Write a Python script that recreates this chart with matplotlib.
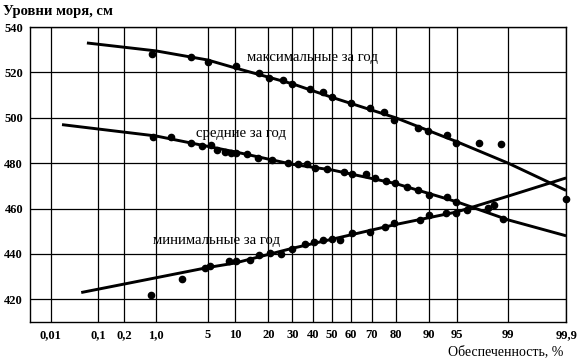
"""Sea level exceedance curves on normal probability paper."""
from statistics import NormalDist

import numpy as np
import matplotlib
matplotlib.use("Agg")
import matplotlib.pyplot as plt

# grid / tick positions (percent) and their labels as printed in the source
tick_pos = [0.01, 0.1, 0.3, 1.0, 5, 10, 20, 30, 40, 50, 60, 70, 80, 90, 95, 99, 99.9]
tick_labels = ["0,01", "0,1", "0,2", "1,0", "5", "10", "20", "30", "40", "50",
               "60", "70", "80", "90", "95", "99", "99,9"]

# annual maxima
max_p = [0.87, 3.1, 5.1, 10.2, 16.8, 20.3, 25.9, 29.9, 38.6, 45.3, 50, 59.9, 69.2,
         75.4, 79.4, 87.2, 89.8, 93.6, 94.9, 97.4, 98.7, 99.9]
max_v = [528.1, 526.8, 524.6, 522.8, 519.7, 517.5, 516.6, 514.9, 512.7, 511.3, 509.1,
         506.5, 504.3, 502.5, 499.0, 495.4, 494.1, 492.4, 488.8, 488.8, 488.4, 464.0]
max_fit_p = [0.06, 1, 5, 10, 30, 50, 80, 95, 99, 99.9]
max_fit_v = [533, 529.5, 525.5, 522, 515, 509, 500, 489.5, 480, 468]

# annual means
mean_p = [0.90, 1.67, 3.12, 4.30, 5.50, 6.44, 7.88, 9.11, 10.2, 13.1, 16.4, 21.4, 28.1,
          32.7, 37.1, 41.1, 47.4, 56.3, 60.4, 67.3, 71.5, 76.2, 79.7, 83.9, 87.2, 90.0,
          93.6, 94.9, 98.0, 98.8]
mean_v = [491.5, 491.5, 488.8, 487.5, 487.9, 485.7, 484.9, 484.4, 484.4, 484.0, 482.2,
          481.3, 480.0, 479.6, 479.6, 477.8, 477.4, 476.0, 475.2, 475.2, 473.4, 472.1,
          471.2, 469.4, 468.1, 465.9, 465.0, 462.8, 460.2, 455.3]
mean_fit_p = [0.018, 1, 10, 30, 50, 80, 95, 99, 99.9]
mean_fit_v = [497, 492, 485, 479.5, 477, 471, 463, 455, 448]

# annual minima
min_p = [0.84, 2.37, 4.67, 5.35, 8.68, 10.2, 13.9, 16.7, 20.6, 25.0, 29.9, 36.1, 40.6,
         45.3, 50, 54.2, 60.4, 69.2, 75.8, 79.4, 87.7, 90.0, 93.4, 94.9, 96.3, 98.4]
min_v = [421.8, 428.8, 433.7, 434.6, 436.8, 436.8, 437.2, 439.4, 440.3, 439.9, 442.1,
         444.3, 445.2, 446.0, 446.5, 446.0, 449.1, 449.6, 451.8, 453.5, 454.9, 457.1,
         458.0, 458.0, 459.3, 461.5]
min_fit_p = [0.046, 1, 5, 10, 30, 50, 80, 95, 99, 99.9]
min_fit_v = [423, 429.5, 434, 436, 442.5, 446.5, 453, 458.5, 465.5, 473.5]

_nd = NormalDist()
_ppf = np.vectorize(lambda p: _nd.inv_cdf(min(max(p / 100.0, 1e-9), 1 - 1e-9)),
                    otypes=[float])
_cdf = np.vectorize(lambda z: _nd.cdf(z) * 100.0, otypes=[float])

plt.rcParams["font.family"] = ["Liberation Serif", "DejaVu Serif"]

fig = plt.figure(figsize=(5.83, 3.61), dpi=100)
ax = fig.add_axes([0.0515, 0.108, 0.9195, 0.817])
ax.set_xscale("function", functions=(_ppf, _cdf))
ax.set_xlim(0.0033, 99.9)
ax.set_ylim(410, 540)

for fp, fv in ((max_fit_p, max_fit_v), (mean_fit_p, mean_fit_v), (min_fit_p, min_fit_v)):
    ax.plot(fp, fv, color="black", lw=2.1, solid_capstyle="butt", zorder=3)
for p, v in ((max_p, max_v), (mean_p, mean_v), (min_p, min_v)):
    ax.plot(p, v, "o", color="black", ms=4.5, zorder=4, clip_on=False)

ax.set_xticks(tick_pos)
ax.set_xticklabels(tick_labels)
ax.xaxis.set_minor_locator(matplotlib.ticker.NullLocator())
ax.set_yticks(range(420, 541, 20))
ax.tick_params(length=0, labelsize=9, pad=5)
for lab in ax.get_xticklabels() + ax.get_yticklabels():
    lab.set_fontweight("bold")
ax.grid(True, color="black", lw=0.9)
for s in ax.spines.values():
    s.set_linewidth(1.0)

ax.text(39.6, 526.8, "максимальные за год", ha="center", va="center", fontsize=10.6)
ax.text(11.5, 493.2, "средние за год", ha="center", va="center", fontsize=10.6)
ax.text(6.3, 446.0, "минимальные за год", ha="center", va="center", fontsize=10.6)

fig.text(0.005, 1 - 11 / 361, "Уровни моря, см", ha="left", va="center",
         fontsize=10.5, fontweight="bold")
fig.text(563 / 583, 1 - 352 / 361, "Обеспеченность, %", ha="right", va="center",
         fontsize=10)

fig.savefig("out.png", dpi=100)
